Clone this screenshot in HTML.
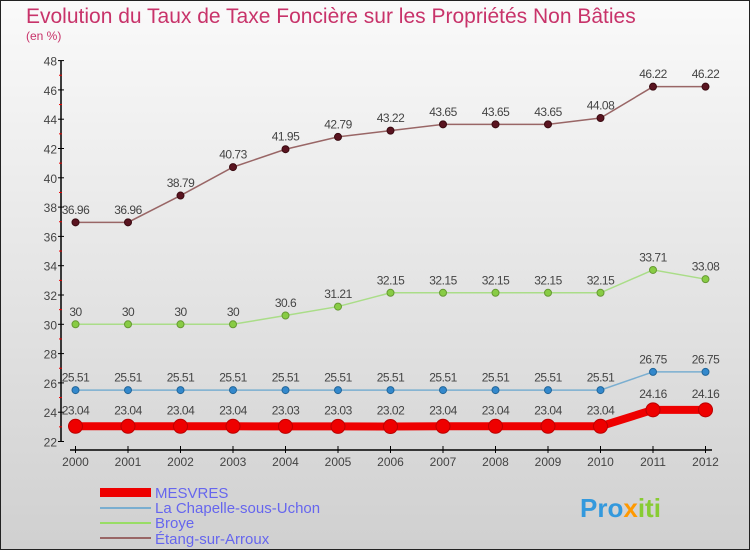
<!DOCTYPE html>
<html><head><meta charset="utf-8"><style>
body{margin:0;width:750px;height:550px;overflow:hidden;font-family:"Liberation Sans",sans-serif}
svg{display:block}
</style></head><body>
<svg width="750" height="550" id="c">
<defs><linearGradient id="bg" x1="0" y1="0" x2="0" y2="1"><stop offset="0" stop-color="#fafafa"/><stop offset="1" stop-color="#d0d0d0"/></linearGradient></defs>
<rect x="0.5" y="0.5" width="749" height="549" fill="url(#bg)" stroke="#222"/>
<text x="26" y="23" font-size="21" fill="#c8336a">Evolution du Taux de Taxe Foncière sur les Propriétés Non Bâties</text>
<text x="26" y="40" font-size="12" fill="#c8336a">(en %)</text>
<g id="axes"></g><g id="series"></g>
<g>
<rect x="100" y="488" width="51" height="9" fill="#e00"/>
<text x="155" y="498" font-size="15" fill="#6666ee">MESVRES</text>
<line x1="100" y1="508" x2="151" y2="508" stroke="#7aaed0" stroke-width="2"/>
<text x="155" y="513" font-size="15" fill="#6666ee">La Chapelle-sous-Uchon</text>
<line x1="100" y1="523" x2="151" y2="523" stroke="#99dd66" stroke-width="2"/>
<text x="155" y="528" font-size="15" fill="#6666ee">Broye</text>
<line x1="100" y1="538" x2="151" y2="538" stroke="#996666" stroke-width="2"/>
<text x="155" y="544" font-size="15" fill="#6666ee">Étang-sur-Arroux</text>
</g>
<text x="580" y="517" font-size="26" font-weight="bold" fill="#3399dd">Pro<tspan fill="#ff9900">x</tspan><tspan fill="#88cc33">iti</tspan></text>
</svg>
<script>
const years=[2000,2001,2002,2003,2004,2005,2006,2007,2008,2009,2010,2011,2012];
const mesvres=[23.04,23.04,23.04,23.04,23.03,23.03,23.02,23.04,23.04,23.04,23.04,24.16,24.16];
const chapelle=[25.51,25.51,25.51,25.51,25.51,25.51,25.51,25.51,25.51,25.51,25.51,26.75,26.75];
const broye=[30,30,30,30,30.6,31.21,32.15,32.15,32.15,32.15,32.15,33.71,33.08];
const etang=[36.96,36.96,38.79,40.73,41.95,42.79,43.22,43.65,43.65,43.65,44.08,46.22,46.22];
const yTicks=[22,24,26,28,30,32,34,36,38,40,42,44,46,48];
const NS="http://www.w3.org/2000/svg";
const xS=i=>75.5+i*52.5;
const yS=v=>441.5-(v-22)*14.65;
function mk(t,a,p){const e=document.createElementNS(NS,t);for(const k in a)e.setAttribute(k,a[k]);p.appendChild(e);return e;}
const ax=document.getElementById('axes');
const yl=mk('line',{x1:61,y1:yS(48),x2:61,y2:yS(22),stroke:'#000','stroke-width':1.5},ax);


yTicks.forEach(v=>{
 mk('line',{x1:58,y1:yS(v),x2:64,y2:yS(v),stroke:'#000'},ax);
 mk('line',{x1:59,y1:yS(v+1),x2:62,y2:yS(v+1),stroke:v<48?'#e00':'none'},ax);
 const t=mk('text',{x:57,y:yS(v)+5,'text-anchor':'end','font-size':12,fill:'#444'},ax);t.textContent=v;
 
 
});
const xl=mk('line',{x1:70,y1:450,x2:712,y2:450,stroke:'#000','stroke-width':1.5},ax);


years.forEach((y,i)=>{
 mk('line',{x1:xS(i),y1:446,x2:xS(i),y2:453,stroke:'#000'},ax);
 const t=mk('text',{x:xS(i),y:466,'text-anchor':'middle','font-size':12,fill:'#444'},ax);t.textContent=y;
 
 
});
const sg=document.getElementById('series');
function draw(name,vals,color,w,r,dot,stroke){
 const g=mk('g',{},sg);
 
 
 const pl=mk('polyline',{points:vals.map((v,i)=>xS(i)+','+yS(v)).join(' '),fill:'none',stroke:color,'stroke-width':w},g);
 
 
 vals.forEach((v,i)=>{
  const c=mk('circle',{cx:xS(i),cy:yS(v),r:r,fill:dot,stroke:stroke,'stroke-width':1},g);
  
  
  const t=mk('text',{x:xS(i),y:yS(v)-(r+5),'text-anchor':'middle','font-size':12,fill:'#444','letter-spacing':'-0.5'},g);
  t.textContent=v;
  
  
 });
}
draw('etang',etang,'#996666',1.5,3.5,'#5a1420','#3a0a10');
draw('broye',broye,'#aadd88',1.5,3.5,'#88cc44','#669933');
draw('chapelle',chapelle,'#7aaed0',1.5,3.5,'#3388cc','#226699');
draw('mesvres',mesvres,'#e00',8,7,'#e00','#b00');
</script>
</body></html>
